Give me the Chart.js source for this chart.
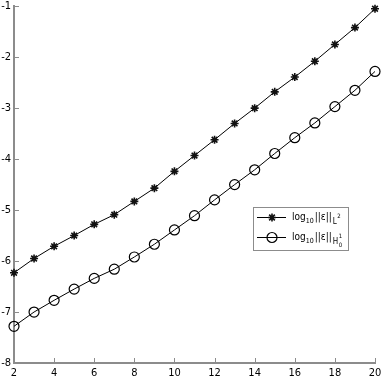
<!DOCTYPE html>
<html>
<head>
<meta charset="utf-8">
<script src="https://cdn.jsdelivr.net/npm/chart.js@4/dist/chart.umd.min.js"></script>
<style>
  html, body { margin: 0; padding: 0; background: #fff; }
  #wrap { width: 382px; height: 382px; }
</style>
</head>
<body>
<div id="wrap"><canvas id="chart" width="382" height="382"></canvas></div>
<script>
const n = [2, 3, 4, 5, 6, 7, 8, 9, 10, 11, 12, 13, 14, 15, 16, 17, 18, 19, 20];
const errL2 = [-6.23, -5.95, -5.71, -5.50, -5.28, -5.09, -4.83, -4.57, -4.24, -3.93,
  -3.62, -3.30, -3.00, -2.68, -2.39, -2.08, -1.75, -1.42, -1.05];
const errH1 = [-7.28, -7.00, -6.77, -6.55, -6.34, -6.16, -5.92, -5.67, -5.39, -5.11,
  -4.80, -4.50, -4.21, -3.89, -3.58, -3.29, -2.97, -2.65, -2.28];
const xTicks = [2, 4, 6, 8, 10, 12, 14, 16, 18, 20];
const yTicks = [-8, -7, -6, -5, -4, -3, -2, -1];

const FONT = "'Liberation Sans Narrow', 'DejaVu Sans Condensed', sans-serif";
const axisColor = "#8c8c8c";

const toPoints = (vals) => n.map((x, i) => ({ x, y: vals[i] }));

// inward tick marks, placed with the scales' own pixel mapping
const innerTicks = {
  id: "innerTicks",
  afterDraw(chart) {
    const ctx = chart.ctx;
    const { x, y } = chart.scales;
    const area = chart.chartArea;
    ctx.save();
    ctx.strokeStyle = axisColor;
    ctx.lineWidth = 1;
    ctx.beginPath();
    xTicks.forEach((v) => {
      const px = Math.round(x.getPixelForValue(v)) + 0.5;
      ctx.moveTo(px, area.bottom);
      ctx.lineTo(px, area.bottom - 5);
    });
    yTicks.forEach((v) => {
      const py = Math.round(y.getPixelForValue(v)) + 0.5;
      ctx.moveTo(area.left, py);
      ctx.lineTo(area.left + 5, py);
    });
    ctx.stroke();
    ctx.restore();
  },
};

// legend drawn by hand so the sub/superscripts can be placed
const legendBox = {
  id: "legendBox",
  afterDatasetsDraw(chart) {
    const ctx = chart.ctx;
    const x0 = 253, y0 = 207, w = 95, h = 43;
    ctx.save();
    ctx.fillStyle = "#fff";
    ctx.fillRect(x0, y0, w, h);
    ctx.strokeStyle = axisColor;
    ctx.lineWidth = 1;
    ctx.strokeRect(x0 + 0.5, y0 + 0.5, w, h);

    const rows = [
      { y: 217, ds: chart.data.datasets[0], sub: "L", sup: "2", subsub: null },
      { y: 237, ds: chart.data.datasets[1], sub: "H", sup: "1", subsub: "0" },
    ];
    rows.forEach((r) => {
      ctx.strokeStyle = "#000";
      ctx.lineWidth = 1;
      ctx.beginPath();
      ctx.moveTo(257, r.y + 0.5);
      ctx.lineTo(286, r.y + 0.5);
      ctx.stroke();
      ctx.fillStyle = r.ds.pointBackgroundColor;
      ctx.strokeStyle = r.ds.pointBorderColor;
      ctx.lineWidth = r.ds.pointBorderWidth;
      Chart.helpers.drawPoint(ctx, {
        pointStyle: r.ds.pointStyle,
        radius: r.ds.pointRadius,
        borderWidth: r.ds.pointBorderWidth,
        rotation: 0,
      }, 272, r.y + 0.5);

      ctx.fillStyle = "#000";
      ctx.textBaseline = "alphabetic";
      ctx.textAlign = "left";
      let x = 292;
      const base = r.y + 3;
      ctx.font = "10px " + FONT;
      ctx.fillText("log", x, base);
      x += ctx.measureText("log").width;
      ctx.font = "7px " + FONT;
      ctx.fillText("10", x, base + 3);
      x += ctx.measureText("10").width + 1;
      ctx.font = "10px " + FONT;
      ctx.fillText("||\u03B5||", x, base);
      x += ctx.measureText("||\u03B5||").width + 1;
      ctx.font = "8px " + FONT;
      ctx.fillText(r.sub, x, base + 4);
      const sw = ctx.measureText(r.sub).width;
      ctx.font = "6px " + FONT;
      ctx.fillText(r.sup, x + sw + 0.5, base - 2);
      if (r.subsub) ctx.fillText(r.subsub, x + sw + 0.5, base + 7);
    });
    ctx.restore();
  },
};

new Chart(document.getElementById("chart"), {
  type: "line",
  data: {
    datasets: [
      {
        label: "log10||e||L2",
        data: toPoints(errL2),
        borderColor: "#000",
        borderWidth: 1,
        pointStyle: "star",
        pointRadius: 4,
        pointBorderWidth: 1.6,
        pointBorderColor: "#111",
        pointBackgroundColor: "#111",
        tension: 0,
        clip: false,
      },
      {
        label: "log10||e||H1",
        data: toPoints(errH1),
        borderColor: "#000",
        borderWidth: 1,
        pointStyle: "circle",
        pointRadius: 5,
        pointBorderWidth: 1.2,
        pointBorderColor: "#000",
        pointBackgroundColor: "rgba(0,0,0,0)",
        tension: 0,
        clip: false,
      },
    ],
  },
  options: {
    responsive: false,
    animation: false,
    layout: { padding: { top: 5, right: 7, left: 0, bottom: 0 } },
    plugins: { legend: { display: false }, tooltip: { enabled: false } },
    scales: {
      x: {
        type: "linear",
        min: 2,
        max: 20,
        afterBuildTicks: (s) => { s.ticks = xTicks.map((v) => ({ value: v })); },
        afterFit: (s) => { s.height = 19; s.paddingLeft = 0; s.paddingRight = 0; },
        grid: { drawOnChartArea: false, drawTicks: false },
        border: { color: axisColor, width: 2 },
        ticks: { color: "#000", padding: 4, maxRotation: 0, font: { family: FONT, size: 11 } },
      },
      y: {
        min: -8,
        max: -1,
        afterBuildTicks: (s) => { s.ticks = yTicks.map((v) => ({ value: v })); },
        afterFit: (s) => { s.width = 14; s.paddingTop = 0; s.paddingBottom = 0; },
        grid: { drawOnChartArea: false, drawTicks: false },
        border: { color: axisColor, width: 2 },
        ticks: { color: "#000", padding: 3, font: { family: FONT, size: 11 } },
      },
    },
  },
  plugins: [innerTicks, legendBox],
});
</script>
</body>
</html>
